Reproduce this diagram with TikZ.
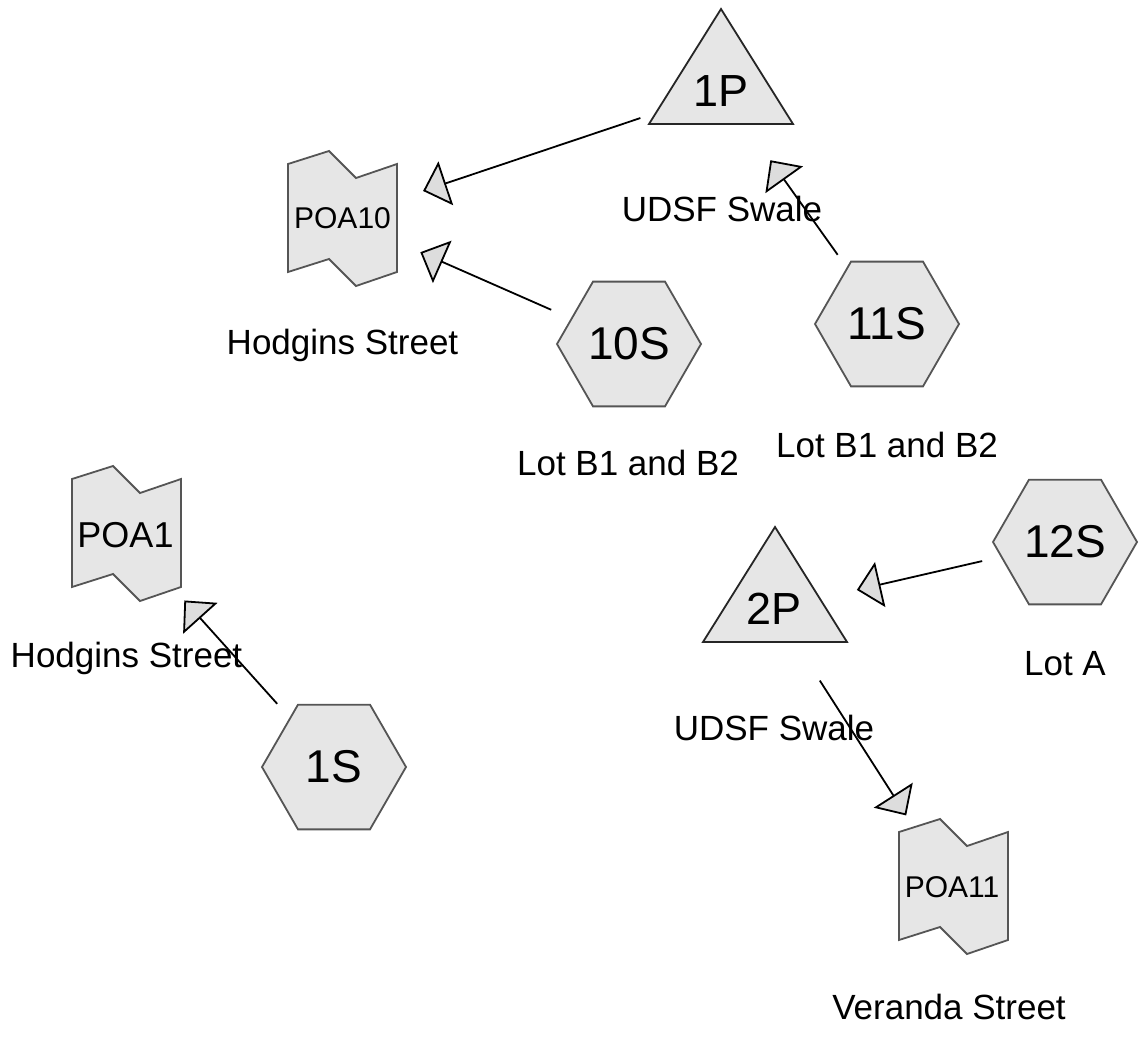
\documentclass[tikz,border=0pt]{standalone}
\usepackage{fontspec}
\setmainfont{Liberation Sans}
\usetikzlibrary{shapes.geometric,arrows.meta}
\definecolor{shfill}{HTML}{E6E6E6}
\definecolor{shline}{HTML}{555555}
\definecolor{tipfill}{HTML}{DDDDDD}
\begin{document}
\begin{tikzpicture}[x=1pt,y=-1pt,
  shapeline/.style={draw=shline, line width=1.8pt, fill=shfill, line join=miter},
  trishape/.style={draw=black!85, line width=1.8pt, fill=shfill, line join=miter},
  hexnode/.style={regular polygon, regular polygon sides=6, minimum size=144pt, inner sep=0pt, shapeline, font=\fontsize{46}{55}\selectfont},
  tritext/.style={inner sep=0pt, font=\fontsize{45}{54}\selectfont},
  poatext/.style={inner sep=0pt, font=\fontsize{30}{36}\selectfont},
  poabig/.style={inner sep=0pt, font=\fontsize{36}{43}\selectfont},
  lbl/.style={inner sep=0pt, anchor=base, font=\fontsize{35}{42}\selectfont},
  arr/.style={draw=black, line width=1.8pt, shorten <=85pt, shorten >=85pt, -{Triangle[length=24pt,width=46pt,fill=tipfill]}},
  flag/.pic={\path[shapeline] (-54.5,-54) -- (-13.5,-67) -- (13.5,-40) -- (54.5,-54) -- (54.5,54) -- (13.5,68) -- (-13.5,41) -- (-54.5,54) -- cycle;},
  tri/.pic={\path[trishape] (0,-82) -- (72,33) -- (-72,33) -- cycle;}
]
\fill[white] (0,0) rectangle (1143,1036);
\useasboundingbox (0,0) rectangle (1143,1036);

% shapes drawn as pics
\pic at (342.5,218) {flag};
\pic at (126.5,533) {flag};
\pic at (953.5,886) {flag};
\pic at (721,91) {tri};
\pic at (775,609) {tri};

% nodes
\node[poatext] (poa10) at (342.5,218) {POA10};
\node[poabig] (poa1) at (125.5,535) {POA1};
\node[poatext] (poa11) at (952,887) {POA11};
\node[tritext] (p1) at (721,91) {1P};
\node[tritext] (p2) at (774,609) {2P};
\node[hexnode] (s10) at (629,344) {10S};
\node[hexnode] (s11) at (887,324) {11S};
\node[hexnode] (s12) at (1065,542) {12S};
\node[hexnode] (s1) at (334,767) {1S};

% labels
\node[lbl] (lpoa10) at (342.5,354) {Hodgins Street};
\node[lbl] (lpoa1) at (126.5,667) {Hodgins Street};
\node[lbl] (lpoa11) at (949,1019) {Veranda Street};
\node[lbl] (lp1) at (722,221) {UDSF Swale};
\node[lbl] (lp2) at (774,740) {UDSF Swale};
\node[lbl] (ls10) at (628,475) {Lot B1 and B2};
\node[lbl] (ls11) at (887,457) {Lot B1 and B2};
\node[lbl] (ls12) at (1065,675) {Lot A};

% connectors
\draw[arr] (p1.center) -- (poa10.center);
\draw[arr] (s10.center) -- (poa10.center);
\draw[arr] (s11.center) -- (p1.center);
\draw[arr] (s12.center) -- (p2.center);
\draw[arr] (p2.center) -- (poa11.center);
\draw[arr, shorten >=88pt] (s1.center) -- (poa1.center);
\end{tikzpicture}
\end{document}
